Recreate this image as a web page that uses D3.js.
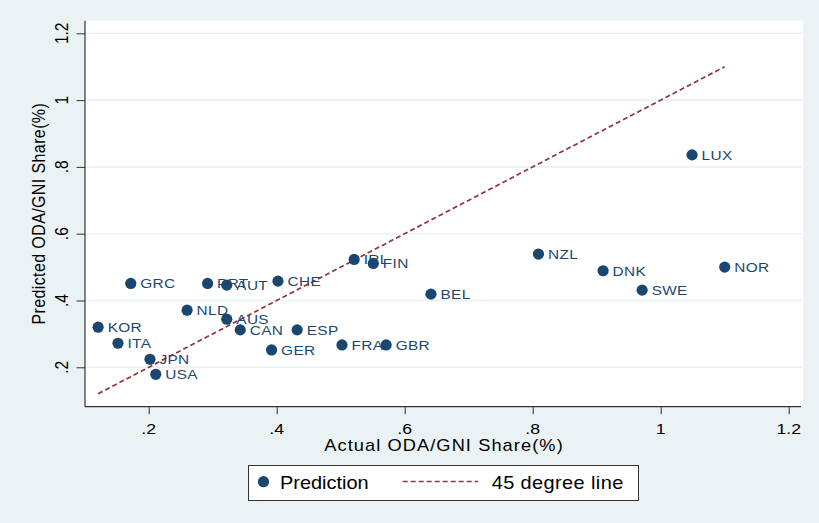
<!DOCTYPE html>
<html>
<head>
<meta charset="utf-8">
<script src="https://cdn.jsdelivr.net/npm/d3@7"></script>
<style>
  html, body { margin: 0; padding: 0; background: #eaf2f3; }
  svg { display: block; font-family: "Liberation Sans", Arial, sans-serif; }
</style>
</head>
<body>
<svg id="chart" width="819" height="523"></svg>
<script>
// ---- data ----
const countries = ["KOR","ITA","JPN","USA","GRC","NLD","PRT","AUT","AUS","CAN","CHE","GER","ESP","IRL","FIN","FRA","GBR","BEL","NZL","DNK","SWE","LUX","NOR"];
const actual    = [0.121,0.152,0.202,0.211,0.172,0.260,0.292,0.322,0.322,0.343,0.402,0.392,0.432,0.521,0.551,0.502,0.571,0.641,0.809,0.910,0.971,1.049,1.100];
const predicted = [0.320,0.272,0.224,0.179,0.451,0.371,0.451,0.446,0.344,0.312,0.458,0.252,0.312,0.523,0.511,0.267,0.267,0.419,0.539,0.489,0.431,0.836,0.500];
const xTicks = [0.2,0.4,0.6,0.8,1.0,1.2];
const xTickLabels = [".2",".4",".6",".8","1","1.2"];
const yTicks = [0.2,0.4,0.6,0.8,1.0,1.2];
const yTickLabels = [".2",".4",".6",".8","1","1.2"];
const xTitle = "Actual ODA/GNI Share(%)";
const yTitle = "Predicted ODA/GNI Share(%)";
const legendLabels = ["Prediction","45 degree line"];

// ---- layout ----
const W = 819, H = 523;
const plot = {x0: 85, x1: 803, y0: 20.7, y1: 406.7};
const SX = 1.14;  // horizontal stretch of text
const navy = "#1a476f", maroon = "#90353b", bg = "#eaf2f3";

const svg = d3.select("#chart");
svg.append("rect").attr("width", W).attr("height", H).attr("fill", bg);

const x = d3.scaleLinear().domain([0.2, 1.2]).range([148.7, 788.7]);
const y = d3.scaleLinear().domain([0.2, 1.2]).range([367.3, 33.3]);

// plot region
svg.append("rect").attr("x", plot.x0).attr("y", plot.y0)
  .attr("width", plot.x1 - plot.x0).attr("height", plot.y1 - plot.y0).attr("fill", "#fff");

// gridlines
svg.append("g").selectAll("line").data(yTicks).join("line")
  .attr("x1", plot.x0).attr("x2", plot.x1 - 1)
  .attr("y1", d => y(d)).attr("y2", d => y(d))
  .attr("stroke", bg).attr("stroke-width", 1.6);

function htext(g, tx, ty, str, size, anchor, fill, ls) {
  return g.append("text").attr("transform", `translate(${tx},${ty}) scale(${SX},1)`)
    .attr("font-size", size).attr("text-anchor", anchor).attr("fill", fill)
    .attr("letter-spacing", ls || 0).text(str);
}
function vtext(g, tx, ty, str, size, fill, ls) {
  return g.append("text").attr("transform", `translate(${tx},${ty}) scale(${SX},1) rotate(-90)`)
    .attr("font-size", size).attr("text-anchor", "middle").attr("fill", fill)
    .attr("letter-spacing", ls || 0).text(str);
}

// x axis
const xAxis = d3.axisBottom(x).tickValues(xTicks).tickSize(7.5).tickFormat((d, i) => xTickLabels[i]);
const gx = svg.append("g").attr("transform", `translate(0,${plot.y1})`).call(xAxis);
gx.select(".domain").remove();
gx.selectAll(".tick line").attr("stroke", "#333").attr("stroke-width", 1);
gx.selectAll(".tick text").remove();
gx.append("line").attr("x1", plot.x0).attr("x2", 801).attr("y1", 0).attr("y2", 0).attr("stroke", "#333").attr("stroke-width", 1.2);
xTicks.forEach((v, i) => htext(svg, x(v), 434.3, xTickLabels[i], 15.5, "middle", "#000"));

// y axis
const yAxis = d3.axisLeft(y).tickValues(yTicks).tickSize(8.5).tickFormat((d, i) => yTickLabels[i]);
const gy = svg.append("g").attr("transform", `translate(${plot.x0},0)`).call(yAxis);
gy.select(".domain").remove();
gy.selectAll(".tick line").attr("stroke", "#333").attr("stroke-width", 1);
gy.selectAll(".tick text").remove();
gy.append("line").attr("x1", 0).attr("x2", 0).attr("y1", plot.y0).attr("y2", plot.y1).attr("stroke", "#333").attr("stroke-width", 1.2);
yTicks.forEach((v, i) => vtext(svg, 68.3, y(v), yTickLabels[i], 15.5, "#000"));

// axis titles
htext(svg, (plot.x0 + plot.x1) / 2, 450.5, xTitle, 16, "middle", "#000", 0.95);
vtext(svg, 45, (plot.y0 + plot.y1) / 2, yTitle, 16, "#000", 0.4);

// 45 degree line
const lineVals = actual.slice().sort((a, b) => a - b);
svg.append("path")
  .attr("d", d3.line().x(d => x(d)).y(d => y(d))(lineVals))
  .attr("fill", "none").attr("stroke", maroon).attr("stroke-width", 1.7)
  .attr("stroke-dasharray", "5,3");

// points
const data = countries.map((c, i) => ({c, a: actual[i], p: predicted[i]}));
const gp = svg.append("g");
gp.selectAll("circle").data(data).join("circle")
  .attr("cx", d => x(d.a)).attr("cy", d => y(d.p)).attr("r", 5.6).attr("fill", navy);
data.forEach(d => htext(gp, x(d.a) + 9.5, y(d.p) + 5, d.c, 13.5, "start", navy, 0.3));

// legend
const lg = svg.append("g");
lg.append("rect").attr("x", 248.5).attr("y", 465.5).attr("width", 390).attr("height", 35)
  .attr("fill", "#fff").attr("stroke", "#333").attr("stroke-width", 1);
lg.append("circle").attr("cx", 263.5).attr("cy", 481.7).attr("r", 5.6).attr("fill", navy);
htext(lg, 280, 489.3, legendLabels[0], 17.5, "start", "#000");
lg.append("line").attr("x1", 402.7).attr("x2", 478).attr("y1", 481.5).attr("y2", 481.5)
  .attr("stroke", maroon).attr("stroke-width", 1.7).attr("stroke-dasharray", "5,3");
htext(lg, 491.7, 489.3, legendLabels[1], 17.5, "start", "#000", 0.35);
</script>
</body>
</html>
